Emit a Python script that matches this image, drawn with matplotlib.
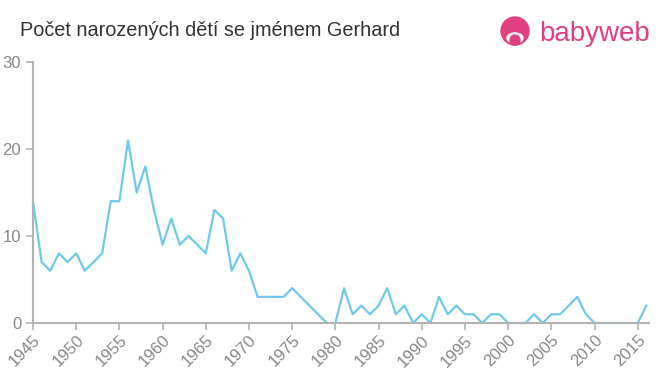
import matplotlib
matplotlib.use("Agg")
import matplotlib.pyplot as plt
from matplotlib.patches import Circle, Ellipse

years = list(range(1945, 2017))
counts = [14, 7, 6, 8, 7, 8, 6, 7, 8, 14,
          14, 21, 15, 18, 13, 9, 12, 9, 10, 9,
          8, 13, 12, 6, 8, 6, 3, 3, 3, 3,
          4, 3, 2, 1, 0, 0, 4, 1, 2, 1,
          2, 4, 1, 2, 0, 1, 0, 3, 1, 2,
          1, 1, 0, 1, 1, 0, 0, 0, 1, 0,
          1, 1, 2, 3, 1, 0, 0, 0, 0, 0,
          0, 2]
xticks = list(range(1945, 2016, 5))
yticks = [0, 10, 20, 30]
title = "Počet narozených dětí se jménem Gerhard"

plt.rcParams['font.family'] = ['Liberation Sans', 'DejaVu Sans']

fig = plt.figure(figsize=(6.6, 3.75), dpi=100)
ax = fig.add_axes([33/660, 1-323/375, (649-33)/660, (323-62)/375])
ax.plot(years, counts, color='#6fc9ea', linewidth=1.6, clip_on=False, zorder=1)
ax.set_xlim(1945, 2016.3)
ax.set_ylim(0, 30)
ax.set_xticks(xticks)
ax.set_xticklabels([str(x) for x in xticks], rotation=45, ha='right', rotation_mode='anchor')
ax.set_yticks(yticks)
for s in ['top', 'right']:
    ax.spines[s].set_visible(False)
for s in ['left', 'bottom']:
    ax.spines[s].set_color('#b3b3b3')
    ax.spines[s].set_linewidth(1.5)
    ax.spines[s].set_zorder(5)
ax.tick_params(axis='both', colors='#b3b3b3', labelcolor='#888888', labelsize=12, length=5, width=1.2)
ax.tick_params(axis='x', pad=2)

fig.text(20/660, 1-30/375, title, fontsize=14.3, color='#333333', va='center', ha='left')

# logo
pink = '#e0407f'
lax = fig.add_axes([0, 0, 1, 1], facecolor='none')
lax.set_xlim(0, 660)
lax.set_ylim(375, 0)
lax.axis('off')
lax.add_patch(Circle((515, 31), 14, color=pink))
lax.add_patch(Ellipse((515, 38), 16, 10, color='white'))
lax.add_patch(Circle((515, 40), 5, color=pink))
lax.text(539, 34, "babyweb", fontsize=20, color=pink, va='center', ha='left')

fig.savefig("out.png", dpi=100)
